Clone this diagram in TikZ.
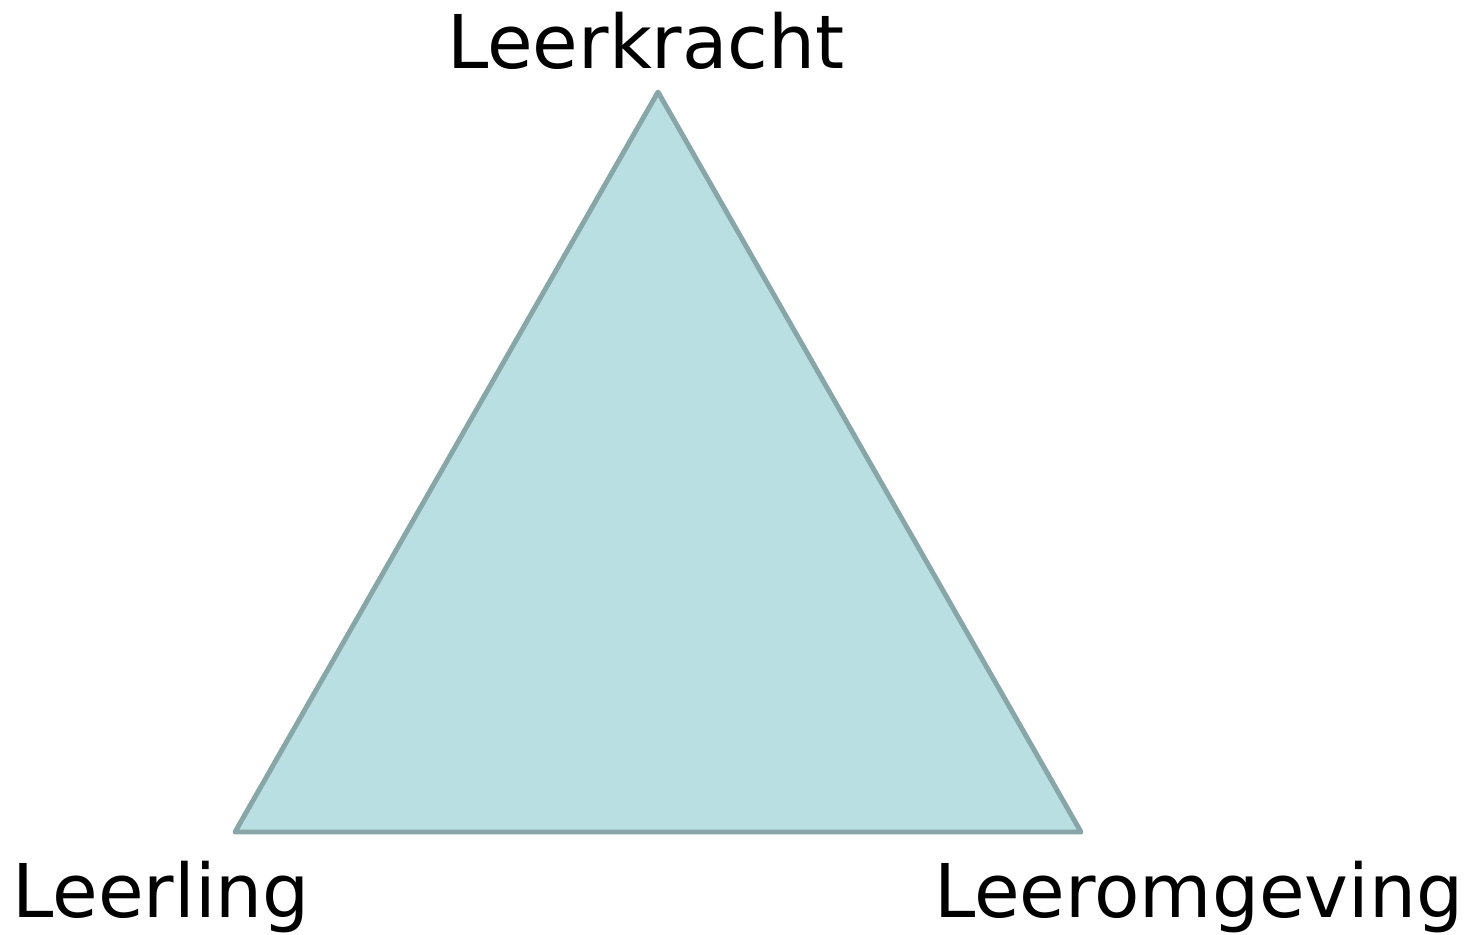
\documentclass[tikz,border=0pt]{standalone}
\usepackage{fontspec}
\setmainfont{DejaVu Sans}
\definecolor{triFill}{HTML}{BADFE2}
\definecolor{triLine}{HTML}{88A6A8}
\tikzset{lbl/.style={inner sep=0pt, font=\fontsize{21.1}{25}\selectfont}}

\begin{document}
\begin{tikzpicture}
	\useasboundingbox(0, 0) rectangle (14.7, 9.34);
	\coordinate(top) at (6.58, 8.42);
	\coordinate(left) at (2.35, 1.02);
	\coordinate(right) at (10.81, 1.02);
	\draw[triLine, fill=triFill, line width=1.4pt, line join=round](top)--(left)--(right)--cycle;
	\node[lbl, anchor=base](leerkracht)at(6.46, 8.66){Leerkracht};
	\node[lbl, anchor=base west](leerling)at(0.12, 0.17){Leerling};
	\node[lbl, anchor=base east](leeromgeving)at(14.64, 0.17){Leeromgeving};
\end{tikzpicture}
\end{document}
